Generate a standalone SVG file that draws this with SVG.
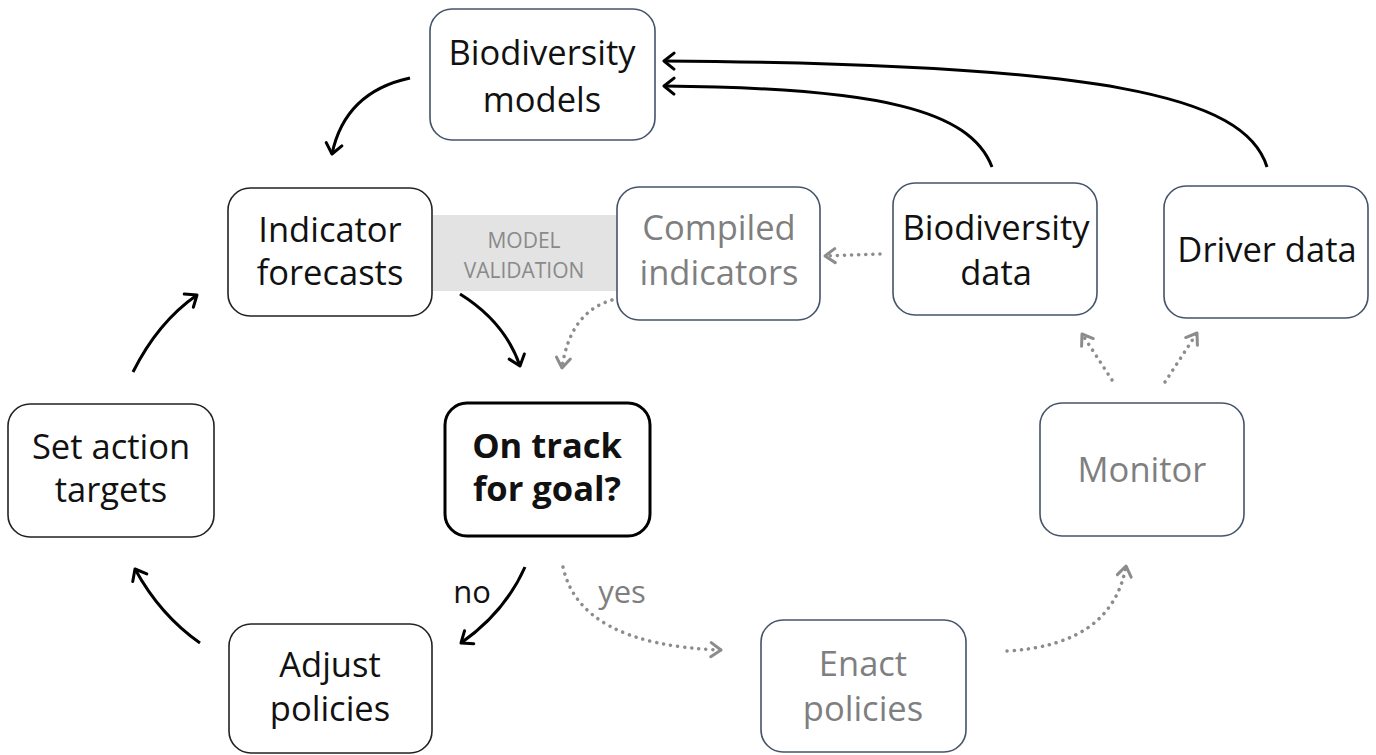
<svg xmlns="http://www.w3.org/2000/svg" width="1376" height="755" viewBox="0 0 1376 755">
<defs>
<style>
.box{fill:#fff;stroke:#222;stroke-width:1.6}
.bbox{fill:#fff;stroke:#44546a;stroke-width:1.6}
.thick{fill:#fff;stroke:#000;stroke-width:3}
.t{font-family:"Open Sans","Noto Sans",sans-serif;font-size:34.5px;text-anchor:middle;fill:#111}
.g{fill:#7f7f7f}
.b{font-weight:bold}
.mv{font-family:"Open Sans","Noto Sans",sans-serif;font-size:21px;text-anchor:middle;fill:#8a8a8a}
.lbl{font-size:31px}
.solid{fill:none;stroke:#000;stroke-width:3;marker-end:url(#ah)}
.dot{fill:none;stroke:#8c8c8c;stroke-width:3.5;stroke-dasharray:0.1 7;stroke-linecap:round;marker-end:url(#ahg)}
</style>
<marker id="ah" markerUnits="userSpaceOnUse" markerWidth="24" markerHeight="24" viewBox="-12 -12 24 24" refX="0" refY="0" orient="auto">
<path d="M-10,-8 L0,0 L-10,8" fill="none" stroke="#000" stroke-width="3" stroke-linecap="round" stroke-linejoin="round"/>
</marker>
<marker id="ahg" markerUnits="userSpaceOnUse" markerWidth="24" markerHeight="24" viewBox="-12 -12 24 24" refX="0" refY="0" orient="auto">
<path d="M-10,-7 L0,0 L-10,7" fill="none" stroke="#8c8c8c" stroke-width="3" stroke-linecap="round" stroke-linejoin="round"/>
</marker>
</defs>
<rect width="1376" height="755" fill="#fff"/>

<g id="model-validation">
<rect x="433" y="215" width="186" height="76" fill="#e3e3e3"/>
<text class="mv" x="524" y="248">MODEL</text>
<text class="mv" x="524" y="278">VALIDATION</text>
</g>

<g id="biodiversity-models">
<rect class="bbox" x="430" y="9" width="225" height="131" rx="22"/>
<text class="t" x="542" y="65">Biodiversity</text>
<text class="t" x="542" y="112">models</text>
</g>

<g id="indicator-forecasts">
<rect class="box" x="228" y="188" width="204" height="128" rx="22"/>
<text class="t" x="330" y="242">Indicator</text>
<text class="t" x="330" y="285">forecasts</text>
</g>

<g id="compiled-indicators">
<rect class="bbox" x="617" y="187" width="203" height="133" rx="22"/>
<text class="t g" x="719" y="240">Compiled</text>
<text class="t g" x="719" y="285">indicators</text>
</g>

<g id="biodiversity-data">
<rect class="bbox" x="893" y="183" width="204" height="132" rx="22"/>
<text class="t" x="996" y="240">Biodiversity</text>
<text class="t" x="996" y="285">data</text>
</g>

<g id="driver-data">
<rect class="bbox" x="1164" y="186" width="204" height="132" rx="22"/>
<text class="t" x="1267" y="262">Driver data</text>
</g>

<g id="set-action-targets">
<rect class="box" x="8" y="404" width="206" height="133" rx="22"/>
<text class="t" x="111" y="459">Set action</text>
<text class="t" x="111" y="502">targets</text>
</g>

<g id="on-track">
<rect class="thick" x="445" y="403" width="205" height="133" rx="22"/>
<text class="t b" x="547" y="458">On track</text>
<text class="t b" x="547" y="501">for goal?</text>
</g>

<g id="monitor">
<rect class="bbox" x="1040" y="403" width="204" height="133" rx="22"/>
<text class="t g" x="1142" y="482">Monitor</text>
</g>

<g id="adjust-policies">
<rect class="box" x="229" y="624" width="203" height="129" rx="22"/>
<text class="t" x="330" y="677">Adjust</text>
<text class="t" x="330" y="721">policies</text>
</g>

<g id="enact-policies">
<rect class="bbox" x="761" y="620" width="205" height="132" rx="22"/>
<text class="t g" x="863" y="676">Enact</text>
<text class="t g" x="863" y="721">policies</text>
</g>

<g id="connectors">
<path class="solid" d="M410,78 Q345,92 332,154"/>
<path class="solid" d="M460,294 Q505,322 520,366"/>
<path class="solid" d="M133,372 Q158,322 197,295"/>
<path class="solid" d="M200,643 Q160,615 135,569"/>
<path class="solid" d="M525,567 Q505,612 461,643"/>
<path class="solid" d="M992,167 C970,110 880,88 664,86"/>
<path class="solid" d="M1267,167 C1245,95 1100,64 664,61"/>
<path class="dot" d="M612,300 Q570,312 562,368"/>
<path class="dot" d="M880,254 L825,256"/>
<path class="dot" d="M563,567 Q580,645 721,650"/>
<path class="dot" d="M1007,651 Q1112,645 1126,566"/>
<path class="dot" d="M1112,380 L1082,334"/>
<path class="dot" d="M1165,382 L1197,333"/>
<text class="t lbl" x="472" y="603">no</text>
<text class="t g lbl" x="622" y="603">yes</text>
</g>
</svg>
